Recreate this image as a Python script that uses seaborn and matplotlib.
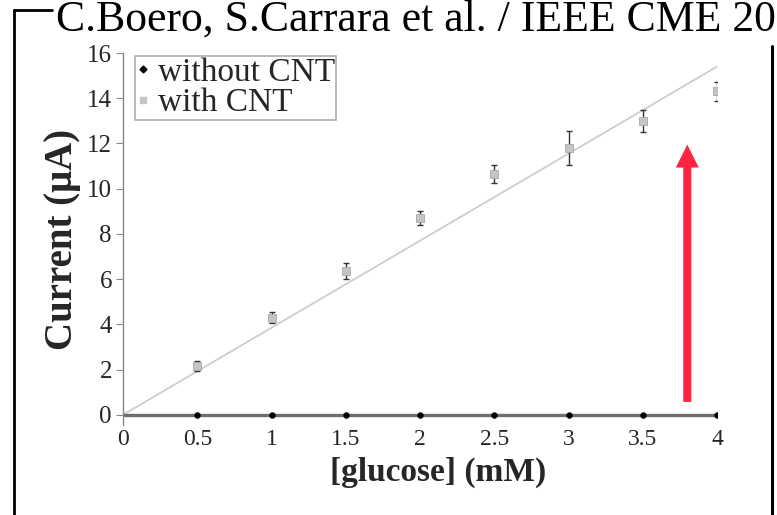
import numpy as np
import pandas as pd
import seaborn as sns
import matplotlib.pyplot as plt
from matplotlib.lines import Line2D

# data
glucose = [0, 0.5, 1, 1.5, 2, 2.5, 3, 3.5, 4]
without_cnt = [0, 0, 0, 0, 0, 0, 0, 0, 0]

glucose_cnt = [0.5, 1, 1.5, 2, 2.5, 3, 3.5, 4]
with_cnt = [2.15, 4.3, 6.35, 8.7, 10.65, 11.8, 13.0, 14.3]
with_cnt_err = [0.22, 0.25, 0.35, 0.3, 0.38, 0.75, 0.5, 0.44]

fit_x = [0, 4]
fit_y = [0, 15.4]

x_ticks = [0, 0.5, 1, 1.5, 2, 2.5, 3, 3.5, 4]
x_ticklabels = ["0", "0.5", "1", "1.5", "2", "2.5", "3", "3.5", "4"]
y_ticks = [0, 2, 4, 6, 8, 10, 12, 14, 16]

sns.set_theme(style="white")
plt.rcParams['font.family'] = ['Liberation Serif', 'DejaVu Serif']

df_wo = pd.DataFrame({"glucose": glucose, "current": without_cnt})
df_w = pd.DataFrame({"glucose": glucose_cnt, "current": with_cnt, "err": with_cnt_err})
df_fit = pd.DataFrame({"glucose": fit_x, "current": fit_y})

fig = plt.figure(figsize=(7.77, 5.15), dpi=100)
ax = fig.add_axes([0.1583, 0.1748, 0.7645, 0.7222])

# fit line for "with CNT"
sns.lineplot(data=df_fit, x="glucose", y="current", ax=ax, color="#cdcdcd", lw=1.3)

# without CNT: flat line at zero with black dots
sns.lineplot(data=df_wo, x="glucose", y="current", ax=ax, color="#6e6e6e", lw=2.4)
sns.scatterplot(data=df_wo[df_wo.glucose > 0], x="glucose", y="current", ax=ax,
                color="black", s=18, edgecolor="black", zorder=4)

# with CNT: gray squares + error bars
ax.errorbar(df_w.glucose, df_w.current, yerr=df_w.err, fmt="none", ecolor="#333333",
            elinewidth=1.0, capsize=2.5, capthick=1.0, zorder=3)
sns.scatterplot(data=df_w, x="glucose", y="current", ax=ax, marker="s", s=40,
                color="#c4c4c4", edgecolor="#a8a8a8", linewidth=0.6, zorder=5)

ax.set_xlim(0, 4)
ax.set_ylim(-0.45, 16)
ax.set_xticks(x_ticks)
ax.set_xticklabels(x_ticklabels)
ax.set_yticks(y_ticks)
ax.tick_params(axis="y", left=True, length=5, width=0.8, color="#888888", pad=3, labelsize=18)
ax.tick_params(axis="x", bottom=False, length=0, pad=3, labelsize=17)

for s in ["top", "right", "bottom"]:
    ax.spines[s].set_visible(False)
ax.spines["left"].set_color("#888888")
ax.spines["left"].set_linewidth(1.0)

ax.set_xlabel("[glucose] (mM)", fontsize=24, fontweight="bold")
ax.xaxis.set_label_coords(0.53, -0.085)
ax.set_ylabel("Current (μA)", fontsize=28, fontweight="bold")
ax.yaxis.set_label_coords(-0.07, 0.5)

handles = [
    Line2D([], [], marker="D", ls="none", color="black", markersize=3.5),
    Line2D([], [], marker="s", ls="none", color="#c4c4c4", markersize=4.5),
]
leg = ax.legend(handles, ["without CNT", "with CNT"], loc="upper left",
                bbox_to_anchor=(0.02, 0.992), fontsize=24, frameon=True, fancybox=False,
                handlelength=0.4, handletextpad=0.25, labelspacing=0.0,
                borderpad=0.04, borderaxespad=0)
leg.get_frame().set_edgecolor("#999999")
leg.get_frame().set_linewidth(1.2)

# red arrow
ax.annotate("", xy=(3.8, 11.95), xytext=(3.8, 0.57),
            arrowprops=dict(facecolor="#ff2442", edgecolor="none", width=5.8,
                            headwidth=16.5, headlength=16.5, shrink=0))

# slide frame and header
fig.add_artist(Line2D([14 / 777, 14 / 777], [0, 1 - 10 / 515], color="black", lw=2))
fig.add_artist(Line2D([14 / 777, 52 / 777], [1 - 10 / 515, 1 - 10 / 515], color="black", lw=2))
fig.add_artist(Line2D([772 / 777, 772 / 777], [0, 1 - 46 / 515], color="black", lw=2.2))
fig.text(776 / 777, 1 - 31 / 515, "C.Boero, S.Carrara et al. / IEEE CME 20",
         fontsize=31.5, ha="right", va="baseline", color="black")

fig.savefig("out.png", dpi=100)
